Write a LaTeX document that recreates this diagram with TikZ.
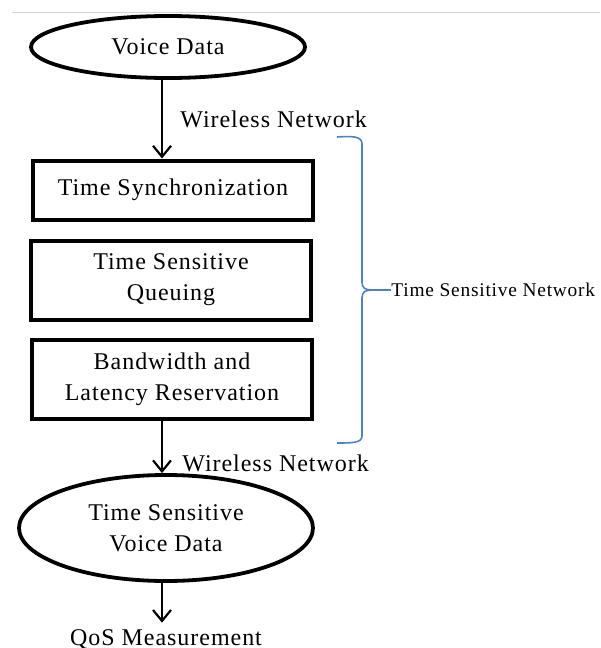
\documentclass[tikz,border=0pt]{standalone}
\usepackage{fontspec}
\setmainfont{Liberation Serif}[LetterSpace=4]
\usepackage{tikz}
\usetikzlibrary{calc,positioning,shapes,arrows.meta}
\definecolor{bracecol}{RGB}{79,129,189}
\definecolor{rulecol}{RGB}{208,212,220}

\begin{document}
\begin{tikzpicture}[x=0.5pt, y=-0.5pt]
\tikzstyle{blob}=[ellipse, draw, line width=1.9pt, inner sep=0pt,
                  align=center, font=\fontsize{12}{15.5}\selectfont]
\tikzstyle{stage}=[rectangle, draw, line width=2pt, inner sep=0pt,
                   minimum width=140pt, align=center,
                   font=\fontsize{12}{15.5}\selectfont]
\tikzstyle{flow}=[line width=1.1pt, -{Straight Barb[length=5.5pt,width=9pt]}]
\tikzstyle{lbl}=[inner sep=0pt, font=\fontsize{12}{15}\selectfont]
\useasboundingbox (0,0) rectangle (600,648);
\draw[rulecol, line width=0.5pt] (12,12) -- (600,12);
\node[blob, minimum width=137pt, minimum height=31pt] (vd) at (168,47){Voice Data};
\node[stage, minimum height=29.5pt] (sync) at (173,190){Time Synchronization};
\node[stage, minimum height=39.5pt] (tsq) at (171,280){Time Sensitive\\Queuing};
\node[stage, minimum height=39.5pt] (bw) at (172,379){Bandwidth and\\Latency Reservation};
\node[blob, minimum width=147pt, minimum height=53pt] (tsvd) at (166,528){Time Sensitive\\Voice Data};
\node[lbl, anchor=base, inner sep=3pt] (qos) at (166,645){QoS Measurement};
\node[lbl, anchor=west] (wn1) at (180,119){Wireless Network};
\node[lbl, anchor=west] (wn2) at (182,463){Wireless Network};
\node[lbl, anchor=west, font=\fontsize{9.7}{12}\selectfont] (tsn) at (391,290){Time Sensitive Network};
\coordinate (spine) at (162,0);
\coordinate (tip) at (372,290);
\foreach \a/\b in {vd/sync,bw/tsvd,tsvd/qos}{\draw[flow] (\a.south -| spine) -- (\b.north -| spine);}
% brace
\draw[bracecol, line width=0.8pt] (337,137) .. controls (352,136) and (362,136) .. (362,144)
  -- (362,282) .. controls (362,288) and (365,290) .. (tip)
  .. controls (365,290) and (362,292) .. (362,298)
  -- (362,436) .. controls (362,443) and (352,443) .. (337,443);
\draw[bracecol, line width=0.8pt] (tip) -- (tsn.west);
\end{tikzpicture}
\end{document}
